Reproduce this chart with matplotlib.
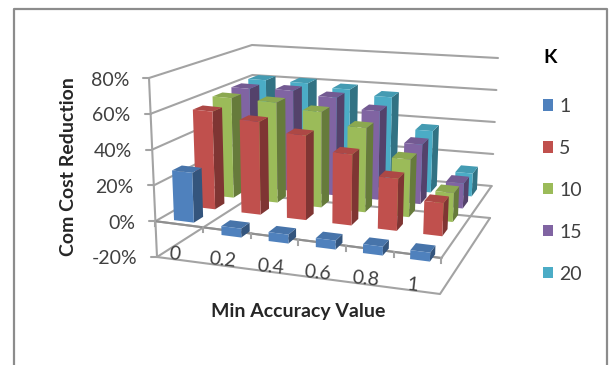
import matplotlib
matplotlib.use("Agg")
import matplotlib.pyplot as plt
from matplotlib.patches import Polygon, Patch
import numpy as np

plt.rcParams['font.family'] = ['Lato', 'DejaVu Sans']

categories = ["0", "0.2", "0.4", "0.6", "0.8", "1"]
series_names = ["1", "5", "10", "15", "20"]
k1 = [28, -5, -5, -5, -5, -5]
k5 = [57, 54, 49, 41, 30, 19]
k10 = [60, 60, 57, 50, 34, 17]
k15 = [61, 62, 60, 54, 36, 15]
k20 = [62, 62, 60, 57, 38, 14]
series_values = [k1, k5, k10, k15, k20]
colors = ["#4F81BD", "#C0504D", "#9BBB59", "#8064A2", "#4BACC6"]
value_ticks = [-20, 0, 20, 40, 60, 80]

# Depth of each row inside the box; nearer rows are spaced wider by the perspective
row_depths = [0.10, 0.33, 0.53, 0.72, 0.89]

# Plot box corners on the canvas: (category, depth, value) -> pixel
BOX = {
    (0, 0, 0): (157, 257), (0, 0, 1): (149, 78),
    (1, 0, 0): (440, 294), (1, 0, 1): (447, 114),
    (0, 1, 0): (254, 195), (0, 1, 1): (252, 45),
    (1, 1, 0): (490, 218), (1, 1, 1): (498, 58),
}


def project(cat, depth, value):
    """Map category position, depth fraction and percent value to canvas pixels."""
    u, v, w = cat / len(categories), depth, (value + 20) / 100
    x = y = 0.0
    for (a, b, c), (px, py) in BOX.items():
        weight = (u if a else 1 - u) * (v if b else 1 - v) * (w if c else 1 - w)
        x += weight * px
        y += weight * py
    return x, y


def shade(color, factor):
    rgb = np.array(matplotlib.colors.to_rgb(color))
    return tuple(np.clip(rgb * factor, 0, 1))


fig = plt.figure(figsize=(6.09, 3.65), dpi=100)
ax = fig.add_axes([0, 0, 1, 1])
ax.set_xlim(0, 609)
ax.set_ylim(365, 0)
ax.axis("off")

# Chart frame (open along the bottom edge)
ax.plot([13.5, 13.5, 607, 607], [365, 8.5, 8.5, 365], color="#8C8C8C", lw=1.6, zorder=1)

grid = dict(color="#A3A3A3", lw=1.5, zorder=2, solid_capstyle="round")
n = len(categories)

# Wall gridlines and left-hand value ticks
for val in value_ticks:
    p0, p1, p2 = project(0, 0, val), project(0, 1, val), project(n, 1, val)
    ax.plot([p0[0], p1[0], p2[0]], [p0[1], p1[1], p2[1]], **grid)
    ax.plot([p0[0] - 6, p0[0]], [p0[1], p0[1]], **grid)
    ax.text(p0[0] - 20, p0[1] + 2, f"{val}%", ha="right", va="center",
            fontsize=14, color="#404040")

# Front-left edge of the wall
p0, p1 = project(0, 0, -20), project(0, 0, 80)
ax.plot([p0[0], p1[0]], [p0[1], p1[1]], **grid)

# Floor outline and the zero plane
for val in [-20, 0]:
    corners = [project(0, 0, val), project(n, 0, val), project(n, 1, val)]
    ax.plot(*zip(*corners), **grid)

# Bars, back row first
bar_w, bar_d = 0.42, 0.1
for row in range(len(series_values) - 1, -1, -1):
    color = colors[row]
    for col, val in enumerate(series_values[row]):
        c0, c1 = col + 0.5 - bar_w / 2, col + 0.5 + bar_w / 2
        dc = row_depths[row]
        d0, d1 = dc - bar_d / 2, dc + bar_d / 2
        lo, hi = min(0, val), max(0, val)
        z = 3 + (len(series_values) - row) * 10 + col
        side = [project(c1, d0, lo), project(c1, d1, lo), project(c1, d1, hi), project(c1, d0, hi)]
        top = [project(c0, d0, hi), project(c1, d0, hi), project(c1, d1, hi), project(c0, d1, hi)]
        front = [project(c0, d0, lo), project(c1, d0, lo), project(c1, d0, hi), project(c0, d0, hi)]
        ax.add_patch(Polygon(side, closed=True, fc=shade(color, 0.66), ec="none", zorder=z))
        ax.add_patch(Polygon(top, closed=True, fc=shade(color, 0.9), ec="none", zorder=z))
        ax.add_patch(Polygon(front, closed=True, fc=color, ec="none", zorder=z))

# Category ticks along the zero plane
for col in range(n + 1):
    p = project(col, 0, 0)
    ax.plot([p[0], p[0]], [p[1], p[1] + 5], zorder=60, color="#A3A3A3", lw=1.5)
p0, p1 = project(0, 0, 0), project(n, 0, 0)
ax.plot([p0[0], p1[0]], [p0[1], p1[1]], zorder=45, color="#8F8F8F", lw=1.5)

# Category labels
for col, label in enumerate(categories):
    p = project(col + 0.5, 0, 0)
    ax.text(p[0] - 4.5, p[1] + 30, label, ha="center", va="center", fontsize=14,
            color="#404040", rotation=-6, rotation_mode="anchor")

ax.text(68, 167, "Com Cost Reduction", rotation=90, ha="center", va="center",
        fontsize=14, fontweight="bold", color="#262626")
ax.text(298, 311, "Min Accuracy Value", ha="center", va="center",
        fontsize=14, fontweight="bold", color="#262626")

handles = [Patch(fc=c, ec="none", label=s) for c, s in zip(colors, series_names)]
legend = ax.legend(handles=handles, title="K", loc="upper left",
                   bbox_to_anchor=(543 / 609, 1 - 49 / 365),
                   frameon=False, fontsize=14, handlelength=0.52, handleheight=0.52,
                   handletextpad=0.32, labelspacing=1.28, borderpad=0, borderaxespad=0,
                   alignment="left", labelcolor="#404040",
                   title_fontproperties={"weight": "bold", "size": 14})
legend._legend_box.sep = 23

fig.savefig("out.png", dpi=100)
